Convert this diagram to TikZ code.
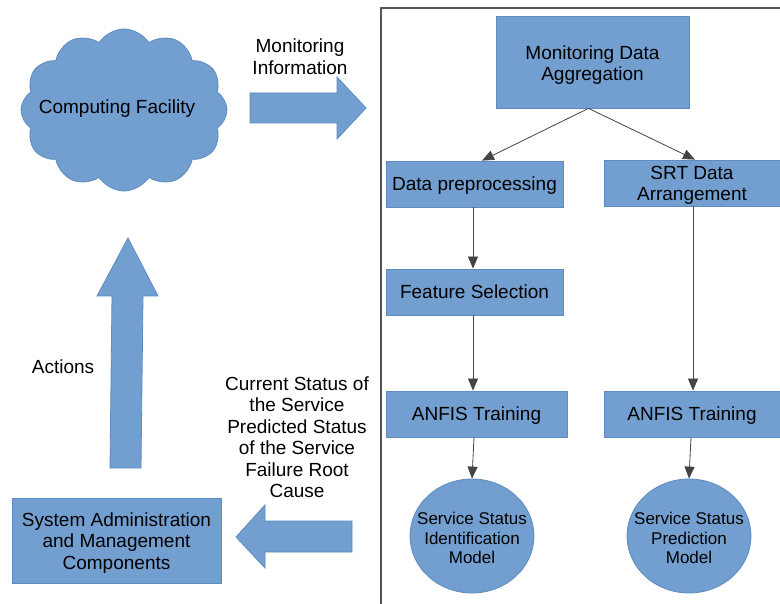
\documentclass[tikz,border=0pt]{standalone}
\usepackage{fontspec}
\setmainfont{Liberation Sans}
\usetikzlibrary{arrows.meta,shapes.geometric,shapes.symbols,calc}
\definecolor{blk}{HTML}{729FCF}
\definecolor{blkline}{HTML}{5E8BC0}
\definecolor{frame}{HTML}{555555}
\definecolor{conn}{HTML}{444444}
\newcommand\lostrutA{\rule[-4pt]{0pt}{21.2pt}}
\newcommand\lostrutB{\rule[-3.6pt]{0pt}{19pt}}
\tikzset{
  boxnode/.style={rectangle, fill=blk, draw=blkline, line width=0.8pt, inner sep=0pt, align=center,
    font=\fontsize{19}{21.5}\selectfont,
    execute at begin node=\lostrutA, execute at end node=\lostrutA},
  modelnode/.style={ellipse, fill=blk, draw=blkline, line width=0.8pt, inner sep=0pt,
    minimum width=124pt, minimum height=114pt},
  modeltext/.style={align=center, inner sep=0pt, font=\fontsize{17}{19.3}\selectfont},
  labeltext/.style={align=center, inner sep=0pt, font=\fontsize{19}{21.5}\selectfont},
  conarrow/.style={draw=conn, line width=0.8pt, -{Triangle[length=12pt,width=10pt]}},
  blockarrow/.style={fill=blk, draw=blkline, line width=0.8pt}
}
\begin{document}
\begin{tikzpicture}[x=1pt,y=-1pt]
\useasboundingbox (0,0) rectangle (780,604);
% frame
\draw[frame, line width=1.3pt] (381,604) -- (381,8) -- (781,8);

% cloud
\node[cloud, cloud puffs=12, cloud puff arc=115, aspect=1.28, fill=blk, draw=blkline, line width=0.8pt,
  minimum width=206pt, minimum height=162pt, inner sep=0pt] (cloud) at (124,110) {};
\node[labeltext] (cloudtxt) at (117,108.5) {Computing Facility};

% block arrows
\draw[blockarrow] (250,93) -- (337,93) -- (337,77) -- (366,108) -- (337,139) -- (337,123) -- (250,123) -- cycle;
\draw[blockarrow] (110,468) -- (112,296) -- (97,296) -- (128,238) -- (158,296) -- (143,296) -- (141,468) -- cycle;
\draw[blockarrow] (352,521) -- (265,521) -- (265,505) -- (236,537) -- (265,568) -- (265,552) -- (352,552) -- cycle;

% labels
\node[labeltext] (moninfo) at (300,56.5) {Monitoring\\Information};
\node[labeltext] (actions) at (63,367) {Actions};
\node[labeltext] (status) at (297,437) {Current Status of\\the Service\\Predicted Status\\of the Service\\Failure Root\\Cause};

% boxes
\node[boxnode, minimum width=193pt, minimum height=92pt] (mda) at (592.5,62) {};
\node[labeltext] (mdatxt) at ($(mda.center)+(0,3)$) {Monitoring Data\\Aggregation};
\node[boxnode, minimum width=177pt, minimum height=46pt] (dp) at (474.5,184) {Data preprocessing};
\node[boxnode, minimum width=176pt, minimum height=46pt] (srt) at (692,183) {};
\node[labeltext] (srttxt) at ($(srt.center)+(0,2.5)$) {SRT Data\\Arrangement};
\node[boxnode, minimum width=177pt, minimum height=46pt] (fs) at (474.5,292) {Feature Selection};
\node[boxnode, minimum width=181pt, minimum height=46pt] (at1) at (476.5,414) {ANFIS Training};
\node[boxnode, minimum width=176pt, minimum height=46pt] (at2) at (692,414) {ANFIS Training};
\node[modelnode] (m1) at (472,536) {};
\node[modeltext] (m1txt) at ($(m1.center)+(0,2)$) {Service Status\\Identification\\Model};
\node[modelnode] (m2) at (689,536) {};
\node[modeltext] (m2txt) at ($(m2.center)+(0,2)$) {Service Status\\Prediction\\Model};
\node[boxnode, minimum width=209pt, minimum height=85pt] (sam) at (116.5,540.5) {};
\node[labeltext] (samtxt) at ($(sam.center)+(0,2.5)$) {System Administration\\and Management\\Components};

% connectors
\draw[conarrow] ($(mda.south)+(-4,0)$) -- ($(dp.north)+(7.5,0)$);
\draw[conarrow] ($(mda.south)+(-4,0)$) -- ($(srt.north)+(3,0)$);
\draw[conarrow] ($(dp.south)+(-1.5,0)$) -- ($(fs.north)+(-1.5,0)$);
\draw[conarrow] ($(fs.south)+(-1.5,0)$) -- ($(at1.north)+(-3.5,0)$);
\draw[conarrow] ($(at1.south)+(-2.5,0)$) -- (m1.north);
\draw[conarrow] ($(srt.south)+(1,0)$) -- ($(at2.north)+(1,0)$);
\draw[conarrow] ($(at2.south)+(-1,0)$) -- (m2.north);
\end{tikzpicture}
\end{document}
